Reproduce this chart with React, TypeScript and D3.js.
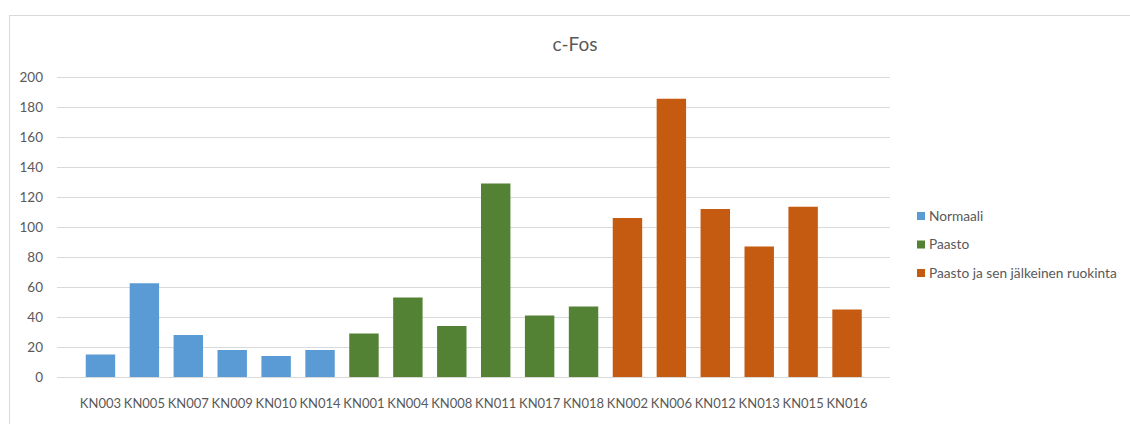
import React from "react";
import * as d3 from "d3";

const categories = ["KN003","KN005","KN007","KN009","KN010","KN014","KN001","KN004","KN008","KN011","KN017","KN018","KN002","KN006","KN012","KN013","KN015","KN016"];
const values = [15, 62.5, 28, 18, 14, 18, 29, 53, 34, 129, 41, 47, 106, 185.5, 112, 87, 113.5, 45];
const groupOf = [0,0,0,0,0,0,1,1,1,1,1,1,2,2,2,2,2,2];
const seriesNames = ["Normaali", "Paasto", "Paasto ja sen jälkeinen ruokinta"];
const seriesColors = ["#5B9BD5", "#548235", "#C55A11"];
const yTicks = [0, 20, 40, 60, 80, 100, 120, 140, 160, 180, 200];

const W = 1130, H = 424;
const FONT = "Lato, 'Open Sans', sans-serif";

export default function App() {
  const x = d3.scaleBand<string>().domain(categories).range([78.5, 869]).paddingInner(0.33).paddingOuter(0.165);
  const y = d3.scaleLinear().domain([0, 200]).range([377, 77]);
  const gridX0 = 57, gridX1 = 890;
  return (
    <svg width={W} height={H} style={{ position: "absolute", left: 0, top: 0, background: "#fff" }} fontFamily={FONT}>
      <rect x={9.5} y={15.5} width={W + 20} height={H + 20} fill="#fff" stroke="#D9D9D9" strokeWidth={1} />
      <text x={575} y={51} textAnchor="middle" fontSize={19} fill="#595959">c-Fos</text>
      {yTicks.map((t) => (
        <g key={t}>
          <line x1={gridX0} x2={gridX1} y1={Math.round(y(t)) + 0.5} y2={Math.round(y(t)) + 0.5} stroke="#D9D9D9" strokeWidth={1} />
          <text x={43} y={y(t)} dy="0.35em" textAnchor="end" fontSize={13.5} fill="#595959">{t}</text>
        </g>
      ))}
      {categories.map((c, i) => (
        <rect key={c} x={x(c)} y={y(values[i])} width={x.bandwidth()} height={y(0) - y(values[i])} fill={seriesColors[groupOf[i]]} />
      ))}
      {categories.map((c) => (
        <text key={c + "l"} x={(x(c) as number) + x.bandwidth() / 2} y={408} textAnchor="middle" fontSize={13} fill="#595959">{c}</text>
      ))}
      {seriesNames.map((s, i) => (
        <g key={s}>
          <rect x={917} y={212 + i * 28.5} width={8} height={8} fill={seriesColors[i]} />
          <text x={929} y={216 + i * 28.5} dy="0.35em" fontSize={13.7} fill="#595959">{s}</text>
        </g>
      ))}
    </svg>
  );
}
